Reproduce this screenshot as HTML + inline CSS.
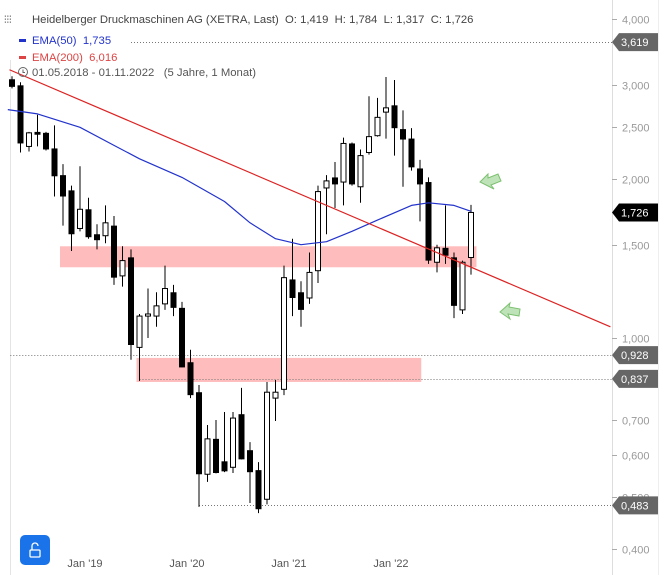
<!DOCTYPE html>
<html><head><meta charset="utf-8"><style>
body{margin:0;background:#fff;font-family:"Liberation Sans",sans-serif;}
svg{display:block}
.pre{white-space:pre}
</style></head><body>
<svg width="667" height="575" viewBox="0 0 667 575">
<g id="bg">
<rect x="0" y="0" width="667" height="575" fill="#fff"/>
<line x1="10.5" y1="60" x2="10.5" y2="575" stroke="#e4e4e4"/>
<line x1="612.5" y1="0" x2="612.5" y2="575" stroke="#ddd"/>
<line x1="658.5" y1="0" x2="658.5" y2="575" stroke="#eee"/>
</g>
<g id="zones"></g>
<g id="refs"></g>
<g id="candles"></g>
<g id="lines"></g>
<g id="yaxis"></g>
<g id="xaxis"></g>
<g font-size="11.3" class="pre">
<text x="4" y="23" font-size="10" fill="#333">⫶⫶⫶</text>
<text x="32" y="23" fill="#444" class="pre">Heidelberger Druckmaschinen AG (XETRA, Last)  O: 1,419  H: 1,784  L: 1,317  C: 1,726</text>
<rect x="19" y="39" width="7" height="3" fill="#2233cc"/>
<text x="32" y="44" fill="#2233cc" class="pre">EMA(50)  1,735</text>
<rect x="19" y="56" width="7" height="3" fill="#dd4444"/>
<text x="32" y="61" fill="#dd4444" class="pre">EMA(200)  6,016</text>
<circle cx="23" cy="72" r="4.5" fill="none" stroke="#666"/>
<path d="M23 69.5V72.5H25" fill="none" stroke="#666"/>
<text x="32" y="76" fill="#555" class="pre">01.05.2018 - 01.11.2022   (5 Jahre, 1 Monat)</text>
</g>
<g>
<path d="M480 182 L488 174 L488 178 L498 174 L501 181 L491 185 L494 189 Z" fill="#bfe3b8" stroke="#7cc070"/>
<path d="M500 312 L510 303 L509 307 L520 309 L519 316 L508 314 L510 319 Z" fill="#bfe3b8" stroke="#7cc070"/>
</g>
<g>
<rect x="20" y="535" width="30" height="30" rx="5" fill="#1a73e8"/>
<rect x="30" y="550" width="10" height="7" rx="1" fill="none" stroke="#fff" stroke-width="1.3"/>
<path d="M32 550 V546 a3 3 0 0 1 6 0" fill="none" stroke="#fff" stroke-width="1.3"/>
</g>
</svg>
<script>
// Monthly OHLC, May 2018 .. Nov 2022
const opens  = [3.08,3.00,2.30,2.45,2.44,2.28,2.03,1.90,1.61,1.75,1.57,1.56,1.63,1.31,1.42,0.96,1.10,1.10,1.16,1.22,1.14,0.90,0.79,0.553,0.645,0.585,0.57,0.718,0.614,0.563,0.496,0.77,0.80,1.29,1.22,1.19,1.34,1.92,2.01,1.97,2.33,1.93,2.24,2.41,2.67,2.75,2.48,2.38,2.09,1.97,1.39,1.48,1.42,1.13,1.419];
const highs  = [3.12,3.04,2.45,2.64,2.45,2.52,2.13,1.94,2.11,1.84,1.64,1.78,1.70,1.49,1.47,1.11,1.24,1.22,1.37,1.26,1.17,0.95,0.815,0.685,0.70,0.725,0.725,0.805,0.636,0.583,0.826,0.833,1.37,1.54,1.28,1.45,1.94,2.03,2.15,2.39,2.34,2.27,2.86,2.84,3.11,3.07,2.69,2.49,2.17,2.01,1.50,1.78,1.45,1.40,1.784];
const lows   = [2.96,2.24,2.25,2.30,2.26,1.85,1.63,1.46,1.59,1.54,1.47,1.51,1.26,1.25,0.91,0.83,1.00,1.05,1.13,1.10,0.88,0.77,0.48,0.535,0.555,0.558,0.556,0.59,0.488,0.467,0.485,0.697,0.78,1.10,1.05,1.16,1.27,1.57,1.76,1.78,1.94,1.80,2.22,2.40,2.38,2.21,1.93,2.07,1.66,1.38,1.33,1.38,1.09,1.11,1.317];
const closes = [2.98,2.33,2.44,2.42,2.27,2.02,1.85,1.57,1.75,1.55,1.53,1.65,1.30,1.40,0.97,1.10,1.11,1.15,1.24,1.14,0.88,0.78,0.553,0.645,0.556,0.56,0.706,0.59,0.558,0.475,0.79,0.79,1.30,1.19,1.13,1.33,1.89,1.98,1.95,2.33,1.95,2.21,2.40,2.61,2.72,2.49,2.37,2.10,1.95,1.40,1.48,1.43,1.15,1.39,1.726];
// EMA(50) samples: candle index -> value
const ema50Idx = [-0.5,3,8,12,15,20,25,28,31,34,37,40,43,47,49,52,54];
const ema50Val = [2.70,2.65,2.50,2.31,2.18,2.01,1.81,1.65,1.54,1.50,1.52,1.59,1.67,1.78,1.80,1.78,1.735];
// EMA(200) (straight descending) endpoints
const ema200Idx = [-0.3,70.4];
const ema200Val = [3.21,1.05];
// Zones [startIdx, endIdx, low, high]
const zoneStart = [6, 15];
const zoneEnd = [55, 48.5];
const zoneLow = [1.36, 0.826];
const zoneHigh = [1.49, 0.917];
// Reference levels
const refValues = [3.619, 0.928, 0.837, 0.483];
const refStartIdx = [14, -0.2, 15, 22];
const yTicks = [4.0, 3.0, 2.5, 2.0, 1.5, 1.0, 0.7, 0.6, 0.5, 0.4];
const yTickLabels = ["4,000","3,000","2,500","2,000","1,500","1,000","0,700","0,600","0,500","0,400"];
const xTickIdx = [8, 20, 32, 44];
const xTickLabels = ["Jan '19","Jan '20","Jan '21","Jan '22"];
const lastValue = 1.726;

const NS="http://www.w3.org/2000/svg";
function X(i){return 12 + i*8.5;}
function Y(p){return 338 - 230*Math.log(p);}
function mk(tag,attrs,parent){const e=document.createElementNS(NS,tag);for(const k in attrs)e.setAttribute(k,attrs[k]);parent.appendChild(e);return e;}

const zones=document.getElementById('zones');
for(let i=0;i<zoneStart.length;i++){
  const r=mk('rect',{x:X(zoneStart[i])-3,y:Y(zoneHigh[i]),width:X(zoneEnd[i])-X(zoneStart[i]),height:Y(zoneLow[i])-Y(zoneHigh[i]),fill:'#ffa0a0','fill-opacity':0.7},zones);
  
  
}
const refs=document.getElementById('refs');
for(let i=0;i<refValues.length;i++){
  const y=Math.round(Y(refValues[i]))+0.5;
  const l=mk('line',{x1:X(refStartIdx[i]),x2:612,y1:y,y2:y,stroke:'#777','stroke-dasharray':'1,2'},refs);
  
  
}
const cg=document.getElementById('candles');
for(let i=0;i<opens.length;i++){
  const x=X(i), up=closes[i]>=opens[i];
  const g=mk('g',{},cg);
  
  
  mk('line',{x1:x,x2:x,y1:Y(highs[i]),y2:Y(lows[i]),stroke:'#000','stroke-width':1},g);
  const top=Y(Math.max(opens[i],closes[i])), bot=Y(Math.min(opens[i],closes[i]));
  mk('rect',{x:x-3,y:top,width:up?5:6,height:Math.max(bot-top,1.5),fill:up?'#fff':'#000',stroke:'#000','stroke-width':up?1:0,transform:up?'translate(0.5,0)':''},g);
}
const lg=document.getElementById('lines');
let d='';
for(let i=0;i<ema50Idx.length;i++)d+=(i?'L':'M')+X(ema50Idx[i]).toFixed(1)+' '+Y(ema50Val[i]).toFixed(1);
const e50=mk('path',{d:d,fill:'none',stroke:'#2233cc','stroke-width':1.2,'stroke-linejoin':'round'},lg);


const e200=mk('line',{x1:X(ema200Idx[0]),y1:Y(ema200Val[0]),x2:X(ema200Idx[1]),y2:Y(ema200Val[1]),stroke:'#dd2222','stroke-width':1.2},lg);



const ya=document.getElementById('yaxis');
for(let i=0;i<yTicks.length;i++){
  const y=Math.round(Y(yTicks[i]))+0.5;
  mk('line',{x1:612,x2:617,y1:y,y2:y,stroke:'#aaa'},ya);
  const t=mk('text',{x:622,y:y+4,'font-size':11,fill:'#999'},ya);
  t.textContent=yTickLabels[i];
  
  
}
function badge(v,color){
  const y=Y(v);
  const g=mk('g',{},ya);
  
  
  mk('path',{d:`M612 ${y} L619 ${y-9} H658 V${y+9} H619 Z`,fill:color},g);
  const t=mk('text',{x:621,y:y+4,'font-size':11,fill:'#fff'},g);
  t.textContent=v.toFixed(3).replace('.',',');
}
for(let i=0;i<refValues.length;i++)badge(refValues[i],'#666');
badge(lastValue,'#000');

const xa=document.getElementById('xaxis');
for(let i=0;i<xTickIdx.length;i++){
  const t=mk('text',{x:X(xTickIdx[i])+5,y:567,'font-size':11,fill:'#555','text-anchor':'middle'},xa);
  t.textContent=xTickLabels[i];
  
  
}
</script>
</body></html>
